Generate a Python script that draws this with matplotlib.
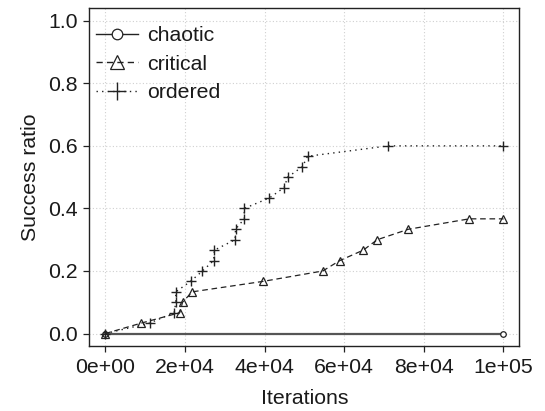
import matplotlib
matplotlib.use('Agg')
import matplotlib.pyplot as plt

# --- data ---
chaotic_x = [0, 100000]
chaotic_y = [0.0, 0.0]

critical_x = [0, 9000, 18700, 19400, 21800, 39600, 54600, 58900, 64800, 68300, 76100, 91400, 100000]
critical_y = [0.0, 0.0333, 0.0667, 0.1, 0.1333, 0.1667, 0.2, 0.2333, 0.2667, 0.3, 0.3333, 0.3667, 0.3667]

ordered_x = [0, 11100, 17300, 17700, 17700, 21400, 24400, 27200, 27400, 32600, 32700, 34900, 34900,
             41200, 44900, 45800, 49500, 50800, 71100, 100000]
ordered_y = [0.0, 0.0333, 0.0667, 0.1, 0.1333, 0.1667, 0.2, 0.2333, 0.2667, 0.3, 0.3333, 0.3667, 0.4,
             0.4333, 0.4667, 0.5, 0.5333, 0.5667, 0.6, 0.6]

x_ticks = [0, 20000, 40000, 60000, 80000, 100000]
x_labels = ['0e+00', '2e+04', '4e+04', '6e+04', '8e+04', '1e+05']
y_ticks = [0.0, 0.2, 0.4, 0.6, 0.8, 1.0]

plt.rcParams['font.family'] = ['Liberation Sans', 'DejaVu Sans']
plt.rcParams['font.size'] = 15.3
txt = '#1a1a1a'

fig = plt.figure(figsize=(5.45, 4.11), dpi=100)
ax = fig.add_axes([0.164, 0.158, 0.789, 0.822])

ax.plot(chaotic_x, chaotic_y, color='#555555', lw=1.6, marker='o', ms=4,
        mfc='white', mec='#222222', mew=0.9, label='chaotic')
ax.plot(critical_x, critical_y, color='#222222', lw=0.9, ls=(0, (4.5, 3)), marker='^', ms=5.5,
        mfc='none', mec='#222222', mew=0.9, label='critical')
ax.plot(ordered_x, ordered_y, color='#222222', lw=1.0, ls=(0, (1, 3)), marker='+', ms=6.5,
        mec='#222222', mew=1.0, label='ordered')

ax.set_xlim(-4000, 104000)
ax.set_ylim(-0.04, 1.04)
ax.set_xticks(x_ticks)
ax.set_xticklabels(x_labels)
ax.set_yticks(y_ticks)
ax.set_yticklabels(['%.1f' % v for v in y_ticks])

ax.grid(True, color='#d0d0d0', ls=(0, (1, 2)), lw=0.8)
ax.set_axisbelow(True)
for s in ax.spines.values():
    s.set_color('#222222')
    s.set_linewidth(1.0)
ax.tick_params(direction='out', length=4.5, width=0.9, color='#222222',
               labelcolor=txt, pad=4)

ax.set_xlabel('Iterations', color=txt, labelpad=9)
ax.set_ylabel('Success ratio', color=txt, labelpad=6)

leg = ax.legend(loc='upper left', bbox_to_anchor=(0, 0.966), frameon=False,
                handlelength=2.0, handletextpad=0.4, markerscale=1.9,
                labelspacing=0.45, borderaxespad=0.1, borderpad=0.2)
for t in leg.get_texts():
    t.set_color(txt)
for h in leg.legend_handles:
    h.set_color('#222222')
    h.set_linewidth(1.0)

fig.savefig('out.png', dpi=100)
